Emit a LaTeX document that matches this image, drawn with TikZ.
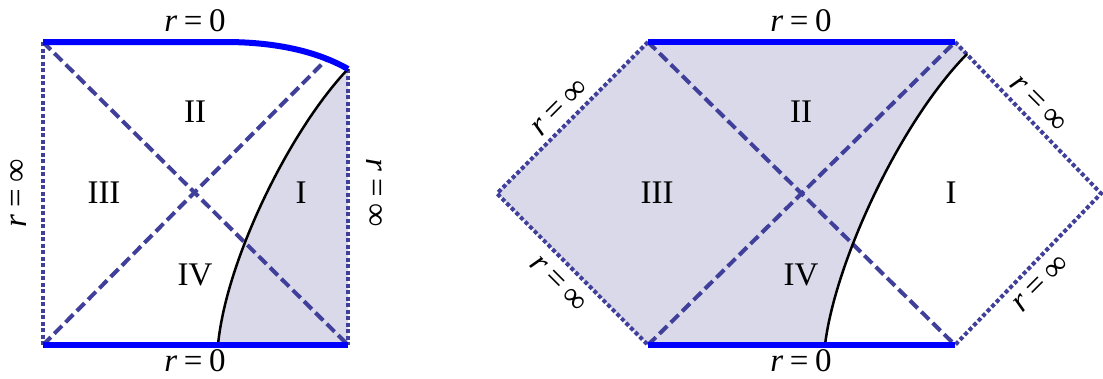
\documentclass[tikz,border=0pt]{standalone}
\usepackage{fontspec}
\setmainfont{Liberation Serif}
\newcommand{\req}[1]{\textit{r}\hspace{0.2em}=\hspace{0.2em}#1}
\begin{document}
\begin{tikzpicture}[x=1pt,y=-1pt,
  lbl/.style={font=\fontsize{33}{37}\selectfont, inner sep=0pt},
  sing/.style={draw={rgb,255:red,0;green,0;blue,255}, line width=6pt},
  horiz/.style={draw={rgb,255:red,64;green,64;blue,155}, line width=4pt, dash pattern=on 11pt off 5pt},
  bdry/.style={draw={rgb,255:red,64;green,64;blue,155}, line width=4pt, dash pattern=on 4pt off 2.5pt},
  shade/.style={fill={rgb,255:red,217;green,217;blue,234}},
  wl/.style={draw=black, line width=2.5pt}]
\useasboundingbox (0,0) rectangle (1103,378);
% ---------- left diagram ----------
\coordinate (LTL) at (43,42);
\coordinate (LBL) at (43,345);
\coordinate (LBR) at (348,345);
\coordinate (LTR) at (348,69);
\coordinate (LK) at (225,42);
\coordinate (LC0) at (218,345);
\coordinate (LH) at (325,61);
\fill[shade] (LC0) .. controls (226,260) and (290,130) .. (LTR) -- (LBR) -- cycle;
\draw[bdry] (LTL) -- (LBL);
\draw[bdry] (LTR) -- (LBR);
\draw[horiz] (LTL) -- (LBR);
\draw[horiz] (LBL) -- (LH);
\draw[wl] (LC0) .. controls (226,260) and (290,130) .. (LTR);
\draw[sing] (LTL) -- (LK) .. controls (280,42) and (320,53) .. (LTR);
\draw[sing] (LBL) -- (LBR);
\node[lbl] (l2) at (195,112) {II};
\node[lbl] (l3) at (104,193) {III};
\node[lbl] (l1) at (301,193) {I};
\node[lbl] (l4) at (195,275) {IV};
\node[lbl] (ltop) at (195,21) {\req{0}};
\node[lbl] (lbot) at (195,361) {\req{0}};
\node[lbl, rotate=90] (lleft) at (19,193) {\req{∞}};
\node[lbl, rotate=-90] (lright) at (374,193) {\req{∞}};
% ---------- right diagram ----------
\coordinate (RTL) at (648,42);
\coordinate (RBL) at (648,345);
\coordinate (RTR) at (955,42);
\coordinate (RBR) at (955,345);
\coordinate (RL) at (497,193.5);
\coordinate (RR) at (1101,193.5);
\coordinate (RC0) at (825,345);
\coordinate (RC1) at (967,54);
\fill[shade] (RL) -- (RTL) -- (RTR) -- (RC1) .. controls (900,122) and (835,262) .. (RC0) -- (RBL) -- cycle;
\draw[bdry] (RTL) -- (RL) -- (RBL);
\draw[bdry] (RTR) -- (RR) -- (RBR);
\draw[horiz] (RTL) -- (RBR);
\draw[horiz] (RBL) -- (RTR);
\draw[wl] (RC0) .. controls (835,262) and (900,122) .. (RC1);
\draw[sing] (RTL) -- (RTR);
\draw[sing] (RBL) -- (RBR);
\node[lbl] (r2) at (801,112) {II};
\node[lbl] (r3) at (657,193) {III};
\node[lbl] (r1) at (951,193) {I};
\node[lbl] (r4) at (801,275) {IV};
\node[lbl] (rtop) at (801,21) {\req{0}};
\node[lbl] (rbot) at (801,361) {\req{0}};
\node[lbl, rotate=45] (rul) at (560,108) {\req{∞}};
\node[lbl, rotate=-45] (rll) at (558,284) {\req{∞}};
\node[lbl, rotate=-45] (rur) at (1038,104) {\req{∞}};
\node[lbl, rotate=45] (rlr) at (1041,284) {\req{∞}};
\end{tikzpicture}
\end{document}
